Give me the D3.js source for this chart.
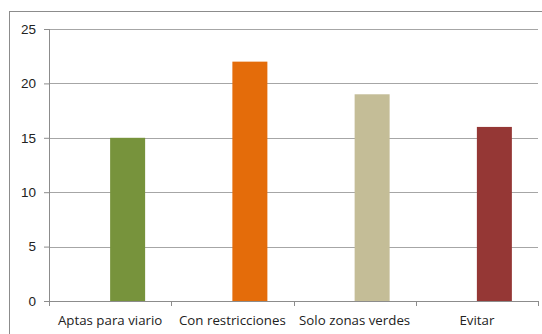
<!DOCTYPE html>
<html>
<head>
<meta charset="utf-8">
<script src="https://cdn.jsdelivr.net/npm/d3@7"></script>
<style>
  body { margin: 0; background: #fff; }
  svg { display: block; font-family: "Open Sans", sans-serif; }
</style>
</head>
<body>
<div id="chart"></div>
<script>
// categories and values
var categories = ['Aptas para viario', 'Con restricciones', 'Solo zonas verdes', 'Evitar'];
var values = [15, 22, 19, 16];
var colors = ['#77933c', '#e46c0a', '#c4bd97', '#953735'];
var yTicks = [0, 5, 10, 15, 20, 25];

var W = 542, H = 334;
var margin = { top: 29, right: 4, bottom: 33, left: 49 },
  width = 538 - margin.left,
  height = 301 - margin.top;

var svg = d3.select('#chart').append('svg')
  .attr('width', W)
  .attr('height', H);

// outer chart border
svg.append('rect')
  .attr('x', 9.5).attr('y', 11.5)
  .attr('width', 560).attr('height', 360)
  .attr('fill', 'none')
  .attr('stroke', '#8c8c8c')
  .attr('stroke-width', 1);

var g = svg.append('g')
  .attr('transform', 'translate(' + margin.left + ',' + margin.top + ')');

var xScale = d3.scaleBand().domain(categories).range([0, width]);
var yScale = d3.scaleLinear().domain([0, 25]).range([height, 0]);

// gridlines
g.selectAll('.grid')
  .data(yTicks.slice(1))
  .enter().append('line')
  .attr('x1', 0).attr('x2', width)
  .attr('y1', function (d) { return Math.round(yScale(d)) + 0.5; })
  .attr('y2', function (d) { return Math.round(yScale(d)) + 0.5; })
  .attr('stroke', '#a6a6a6');

// y axis
var yAxis = g.append('g')
  .call(d3.axisLeft(yScale).tickValues(yTicks).tickSize(5).tickPadding(8));
yAxis.select('.domain').attr('stroke', '#8c8c8c').attr('d', 'M0.5,0V' + height);
yAxis.selectAll('.tick line').attr('stroke', '#8c8c8c');
yAxis.selectAll('.tick text').style('font-size', '13.5px').attr('fill', '#222');

// x axis: tick marks at category boundaries
var xAxis = g.append('g').attr('transform', 'translate(0,' + height + ')');
xAxis.append('line')
  .attr('x1', 0).attr('x2', width)
  .attr('y1', 0.5).attr('y2', 0.5)
  .attr('stroke', '#8c8c8c');
var bounds = categories.map(function (c) { return xScale(c); }).concat([width]);
xAxis.selectAll('.xtick')
  .data(bounds)
  .enter().append('line')
  .attr('x1', function (d) { return Math.round(d) + 0.5; })
  .attr('x2', function (d) { return Math.round(d) + 0.5; })
  .attr('y1', 0).attr('y2', 5)
  .attr('stroke', '#8c8c8c');
xAxis.selectAll('.xlabel')
  .data(categories)
  .enter().append('text')
  .attr('x', function (d) { return xScale(d) + xScale.bandwidth() / 2; })
  .attr('y', 24)
  .attr('text-anchor', 'middle')
  .style('font-size', '13.3px')
  .attr('fill', '#222')
  .text(function (d) { return d; });

// bars start at the middle of each category
var barW = 35;
g.selectAll('.bar')
  .data(values)
  .enter().append('rect')
  .attr('x', function (d, i) { return xScale(categories[i]) + xScale.bandwidth() / 2; })
  .attr('y', function (d) { return yScale(d); })
  .attr('width', barW)
  .attr('height', function (d) { return height - yScale(d); })
  .attr('fill', function (d, i) { return colors[i]; });
</script>
</body>
</html>
